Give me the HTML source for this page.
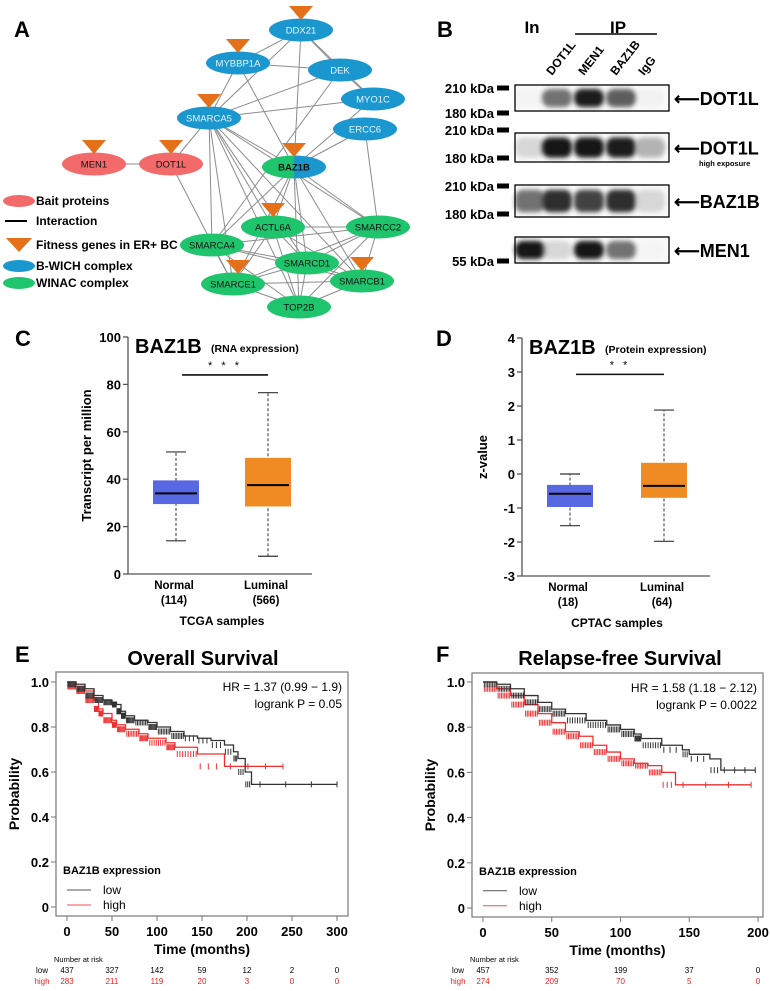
<!DOCTYPE html>
<html><head><meta charset="utf-8">
<style>
html,body{margin:0;padding:0;background:#fff;}
svg{display:block;font-family:"Liberation Sans",Arial,sans-serif;}
</style></head>
<body>
<svg id="fig" width="770" height="991" viewBox="0 0 770 991" xmlns="http://www.w3.org/2000/svg">
<defs>
<filter id="blur2" x="-30%" y="-50%" width="160%" height="200%"><feGaussianBlur stdDeviation="2.5"/></filter>
<clipPath id="bazL"><rect x="260" y="150" width="34" height="40"/></clipPath>
<clipPath id="bazR"><rect x="294" y="150" width="40" height="40"/></clipPath>
</defs>
<g font-weight="bold" font-size="22">
<text x="14" y="37">A</text>
<text x="437" y="37">B</text>
<text x="15" y="346">C</text>
<text x="436" y="346">D</text>
<text x="15" y="662">E</text>
<text x="436" y="662">F</text>
</g>
<g id="net"></g>
<g id="blot"></g>
<g id="boxC"></g>
<g id="boxD"></g>
<g id="kmE"></g>
<g id="kmF"></g>
</svg>
<script>
// ===== Boxplot data =====
const boxCCategories = ["Normal","Luminal"];
const boxCCounts = ["(114)","(566)"];
const boxCWhiskLow = [14, 7.5];
const boxCQ1 = [29.5, 28.5];
const boxCMedian = [34, 37.5];
const boxCQ3 = [39.5, 49];
const boxCWhiskHigh = [51.5, 76.5];
const boxCTicks = [0,20,40,60,80,100];

const boxDCategories = ["Normal","Luminal"];
const boxDCounts = ["(18)","(64)"];
const boxDWhiskLow = [-1.52, -1.98];
const boxDQ1 = [-0.97, -0.7];
const boxDMedian = [-0.58, -0.35];
const boxDQ3 = [-0.32, 0.33];
const boxDWhiskHigh = [0, 1.88];
const boxDTicks = [-3,-2,-1,0,1,2,3,4];

// ===== KM data =====
const kmETimeLow = [0,10,20,30,40,50,55,60,65,75,90,100,115,130,145,160,175,185,190,198,205,300];
const kmESurvLow = [1,0.99,0.97,0.94,0.92,0.91,0.90,0.87,0.85,0.83,0.82,0.80,0.78,0.76,0.75,0.74,0.72,0.69,0.66,0.60,0.545,0.545];
const kmETimeHigh = [0,10,20,30,35,40,50,55,65,80,90,110,120,145,175,240];
const kmESurvHigh = [1,0.98,0.96,0.92,0.88,0.86,0.83,0.81,0.79,0.77,0.75,0.73,0.71,0.68,0.625,0.625];
const kmEXTicks = [0,50,100,150,200,250,300];
const kmERiskLow = ["437","327","142","59","12","2","0"];
const kmERiskHigh = ["283","211","119","20","3","0","0"];

const kmFTimeLow = [0,10,20,30,40,50,60,75,90,100,110,115,130,145,150,165,173,198];
const kmFSurvLow = [1,0.99,0.97,0.94,0.91,0.88,0.86,0.83,0.81,0.79,0.77,0.75,0.72,0.70,0.68,0.66,0.61,0.61];
const kmFTimeHigh = [0,10,20,30,40,50,60,70,80,90,100,110,120,130,140,195];
const kmFSurvHigh = [1,0.97,0.94,0.90,0.86,0.82,0.78,0.76,0.72,0.69,0.66,0.64,0.63,0.60,0.545,0.545];
const kmFXTicks = [0,50,100,150,200];
const kmFRiskLow = ["457","352","199","37","0"];
const kmFRiskHigh = ["274","209","70","5","0"];
const kmYTicks = [0,0.2,0.4,0.6,0.8,1.0];

const NS="http://www.w3.org/2000/svg";
function mk(parent, tag, attrs, text){
  const e=document.createElementNS(NS,tag);
  for(const k in attrs) e.setAttribute(k,attrs[k]);
  if(text!==undefined) e.textContent=text;
  parent.appendChild(e); return e;
}

// ===== Network =====
const net=document.getElementById('net');
const BLUE="#1a97cf", GREEN="#1fc56c", RED="#f26a6a", ORANGE="#e4701a";
const nodes={
 DDX21:[301,30,BLUE],MYBBP1A:[238,63,BLUE],DEK:[340,70,BLUE],MYO1C:[373,99,BLUE],
 SMARCA5:[209,118,BLUE],ERCC6:[365,129,BLUE],MEN1:[94,164,RED],DOT1L:[171,164,RED],
 BAZ1B:[294,167,null],ACTL6A:[273,227,GREEN],SMARCC2:[378,227,GREEN],SMARCA4:[212,245,GREEN],
 SMARCD1:[307,263,GREEN],SMARCE1:[233,284,GREEN],SMARCB1:[362,281,GREEN],TOP2B:[299,307,GREEN]
};
const edges=[["MEN1","DOT1L"],["DOT1L","SMARCA5"],["DOT1L","SMARCE1"],["DDX21","MYBBP1A"],["DDX21","DEK"],["DDX21","MYO1C"],["DDX21","BAZ1B"],["DDX21","SMARCA5"],
["MYBBP1A","DEK"],["MYBBP1A","SMARCA5"],["MYBBP1A","BAZ1B"],["DEK","SMARCA5"],["DEK","MYO1C"],["DEK","SMARCA4"],["MYO1C","SMARCA5"],["MYO1C","BAZ1B"],
["ERCC6","BAZ1B"],["ERCC6","SMARCC2"],["SMARCA5","BAZ1B"],["SMARCA5","ACTL6A"],["SMARCA5","SMARCA4"],["SMARCA5","SMARCD1"],["SMARCA5","SMARCE1"],["SMARCA5","SMARCB1"],["SMARCA5","TOP2B"],["SMARCA5","SMARCC2"],
["BAZ1B","ACTL6A"],["BAZ1B","SMARCC2"],["BAZ1B","SMARCA4"],["BAZ1B","SMARCD1"],["BAZ1B","SMARCE1"],["BAZ1B","SMARCB1"],["BAZ1B","TOP2B"],
["ACTL6A","SMARCC2"],["ACTL6A","SMARCE1"],["ACTL6A","TOP2B"],["ACTL6A","SMARCB1"],["ACTL6A","SMARCD1"],["SMARCC2","SMARCA4"],["SMARCC2","SMARCD1"],["SMARCC2","SMARCB1"],["SMARCC2","SMARCE1"],["SMARCC2","TOP2B"],
["SMARCA4","SMARCD1"],["SMARCA4","SMARCE1"],["SMARCA4","TOP2B"],["SMARCA4","SMARCB1"],["SMARCD1","SMARCE1"],["SMARCD1","TOP2B"],["SMARCD1","SMARCB1"],["SMARCE1","SMARCB1"],["SMARCE1","TOP2B"],["SMARCB1","TOP2B"]];
const eg=mk(net,'g',{stroke:'#8c8c8c','stroke-width':1});


edges.forEach(([a,b])=>{const l=mk(eg,'line',{x1:nodes[a][0],y1:nodes[a][1],x2:nodes[b][0],y2:nodes[b][1]});
 
 });
const fitness=["DDX21","MYBBP1A","SMARCA5","MEN1","DOT1L","BAZ1B","ACTL6A","SMARCE1","SMARCB1"];
for(const n in nodes){
 const [x,y,c]=nodes[n];
 const g=mk(net,'g',{});
 
 
 if(c){mk(g,'ellipse',{cx:x,cy:y,rx:32,ry:11.5,fill:c});}
 else{mk(g,'ellipse',{cx:x,cy:y,rx:32,ry:11.5,fill:GREEN,'clip-path':'url(#bazL)'});mk(g,'ellipse',{cx:x,cy:y,rx:32,ry:11.5,fill:BLUE,'clip-path':'url(#bazR)'});}
 mk(g,'text',{x:x,y:y+3.5,'text-anchor':'middle','font-size':9.5,fill:c===BLUE?'#e8f4fb':'#111','font-weight':n==='BAZ1B'?'bold':'normal'},n);
}
fitness.forEach(n=>{let [x,y]=nodes[n]; if(n==='SMARCE1')x+=5;
 const t=mk(net,'polygon',{points:`${x-12},${y-24} ${x+12},${y-24} ${x},${y-10}`,fill:ORANGE});
 
 });
// legend
const lg=mk(net,'g',{'font-size':12,'font-weight':'bold'});


mk(lg,'ellipse',{cx:19,cy:201,rx:16,ry:6,fill:RED});mk(lg,'text',{x:36,y:205},'Bait proteins');
mk(lg,'line',{x1:5,y1:221,x2:27,y2:221,stroke:'#000','stroke-width':2});mk(lg,'text',{x:36,y:225},'Interaction');
mk(lg,'polygon',{points:'6,238 32,238 19,252',fill:ORANGE});mk(lg,'text',{x:36,y:249},'Fitness genes in ER+ BC');
mk(lg,'ellipse',{cx:19,cy:266,rx:16,ry:6,fill:BLUE});mk(lg,'text',{x:36,y:270},'B-WICH complex');
mk(lg,'ellipse',{cx:19,cy:283,rx:16,ry:6,fill:GREEN});mk(lg,'text',{x:36,y:287},'WINAC complex');

// ===== Blot =====
const bl=document.getElementById('blot');
mk(bl,'text',{x:532,y:33,'font-size':17,'font-weight':'bold','text-anchor':'middle'},'In');
mk(bl,'text',{x:618,y:33,'font-size':17,'font-weight':'bold','text-anchor':'middle'},'IP');
mk(bl,'line',{x1:575,y1:34,x2:657,y2:34,stroke:'#000','stroke-width':1.5});
const lanes=["DOT1L","MEN1","BAZ1B","IgG"], laneX=[556,588,620,648];
lanes.forEach((l,i)=>{const t=mk(bl,'text',{x:laneX[i]-4,y:76,'font-size':12,'font-weight':'bold',transform:`rotate(-52 ${laneX[i]-4} 76)`},l);
 });
const blots=[{y:85,h:26,lab:'DOT1L',sub:'',b:[0.04,0.6,0.92,0.65,0.06],m:['210 kDa',88,'180 kDa',113]},
 {y:133,h:29,lab:'DOT1L',sub:'high exposure',b:[0.25,0.97,0.97,0.92,0.4],m:['210 kDa',130,'180 kDa',158]},
 {y:185,h:32,lab:'BAZ1B',sub:'',b:[0.6,0.85,0.75,0.85,0.25],m:['210 kDa',186,'180 kDa',214]},
 {y:237,h:26,lab:'MEN1',sub:'',b:[0.98,0.25,0.95,0.6,0.03],m:['55 kDa',261]}];
const bx=[530,557,589,621,650];
blots.forEach((b,k)=>{const g=mk(bl,'g',{});
 
 mk(g,'rect',{x:515,y:b.y,width:154,height:b.h,fill:'#fafafa'});
 b.b.forEach((v,i)=>{const sh=Math.round(255*(1-v)*0.8+15);mk(g,'rect',{x:bx[i]-15,y:b.y+b.h*0.15,width:30,height:b.h*0.7,rx:8,fill:`rgb(${sh},${sh},${sh})`,filter:'url(#blur2)',opacity:Math.min(1,v*1.3+0.1)});});
 mk(g,'rect',{x:515,y:b.y,width:154,height:b.h,fill:'none',stroke:'#000','stroke-width':1.3});
 mk(g,'text',{x:674,y:b.y+b.h/2+7,'font-size':18,'font-weight':'bold'},'\u27F5'+b.lab);
 if(b.sub) mk(g,'text',{x:699,y:b.y+b.h+4,'font-size':7.5,'font-weight':'bold'},b.sub);
 for(let j=0;j<b.m.length;j+=2){mk(g,'text',{x:494,y:b.m[j+1]+5,'font-size':13,'font-weight':'bold','text-anchor':'end'},b.m[j]);
  mk(g,'rect',{x:497,y:b.m[j+1]-2.5,width:12,height:5,fill:'#000'});}
});

// ===== Boxplots =====
function boxplot(gid,o){
 const g=document.getElementById(gid);
 const ys=v=>o.y0-(v-o.ymin)/(o.ymax-o.ymin)*(o.y0-o.y1);
 mk(g,'line',{x1:o.ax,y1:o.y1,x2:o.ax,y2:o.y0,stroke:'#555','stroke-width':1.3});
 mk(g,'line',{x1:o.ax,y1:o.y0,x2:o.axEnd,y2:o.y0,stroke:'#555','stroke-width':1.3});
 o.ticks.forEach(t=>{mk(g,'line',{x1:o.ax-5,y1:ys(t),x2:o.ax,y2:ys(t),stroke:'#555','stroke-width':1.3});
  mk(g,'text',{x:o.ax-7,y:ys(t)+5,'font-size':13,'font-weight':'bold','text-anchor':'end'},t);});
 o.cats.forEach((c,i)=>{
  const cx=o.cx[i], w=o.w;
  const bg=mk(g,'g',{});
  
  
  mk(bg,'line',{x1:cx,y1:ys(o.wl[i]),x2:cx,y2:ys(o.wh[i]),stroke:'#333','stroke-dasharray':'3,2','stroke-width':1});
  mk(bg,'line',{x1:cx-10,y1:ys(o.wl[i]),x2:cx+10,y2:ys(o.wl[i]),stroke:'#333','stroke-width':1.2});
  mk(bg,'line',{x1:cx-10,y1:ys(o.wh[i]),x2:cx+10,y2:ys(o.wh[i]),stroke:'#333','stroke-width':1.2});
  mk(bg,'rect',{x:cx-w/2,y:ys(o.q3[i]),width:w,height:ys(o.q1[i])-ys(o.q3[i]),fill:o.col[i]});
  mk(bg,'line',{x1:cx-w/2+2,y1:ys(o.med[i]),x2:cx+w/2-2,y2:ys(o.med[i]),stroke:'#000','stroke-width':2});
  mk(g,'text',{x:cx-2,y:o.y0+15,'font-size':11.5,'font-weight':'bold','text-anchor':'middle'},c);
  mk(g,'text',{x:cx-2,y:o.y0+30,'font-size':11.5,'font-weight':'bold','text-anchor':'middle'},o.counts[i]);
 });
 mk(g,'line',{x1:o.cx[0]+6,y1:ys(o.sig),x2:o.cx[1],y2:ys(o.sig),stroke:'#111','stroke-width':1.6});
 mk(g,'text',{x:(o.cx[0]+o.cx[1])/2+3,y:ys(o.sig)-6,'font-size':11,'text-anchor':'middle','letter-spacing':'3'},o.stars);
 mk(g,'text',{x:o.ax+7,y:o.y1+16,'font-size':20,'font-weight':'bold'},'BAZ1B');
 mk(g,'text',{x:o.ax+83,y:o.y1+15,'font-size':10.5,'font-weight':'bold'},o.sub);
 mk(g,'text',{x:(o.cx[0]+o.cx[1])/2,y:o.y0+51,'font-size':12,'font-weight':'bold','text-anchor':'middle'},o.xtitle);
 mk(g,'text',{x:o.ylx,y:(o.y0+o.y1)/2,'font-size':13,'font-weight':'bold','text-anchor':'middle',transform:`rotate(-90 ${o.ylx} ${(o.y0+o.y1)/2})`},o.ytitle);
}
boxplot('boxC',{ax:128,axEnd:312,y0:574,y1:337,ymin:0,ymax:100,ticks:boxCTicks,cats:boxCCategories,counts:boxCCounts,cx:[176,268],w:46,
 wl:boxCWhiskLow,q1:boxCQ1,med:boxCMedian,q3:boxCQ3,wh:boxCWhiskHigh,col:['#5868e2','#f08a22'],sig:84,stars:'* * *',sub:'(RNA expression)',xtitle:'TCGA samples',ytitle:'Transcript per million',ylx:91});
boxplot('boxD',{ax:522,axEnd:710,y0:576,y1:338,ymin:-3,ymax:4,ticks:boxDTicks,cats:boxDCategories,counts:boxDCounts,cx:[570,664],w:46,
 wl:boxDWhiskLow,q1:boxDQ1,med:boxDMedian,q3:boxDQ3,wh:boxDWhiskHigh,col:['#5868e2','#f08a22'],sig:2.93,stars:'* *',sub:'(Protein expression)',xtitle:'CPTAC samples',ytitle:'z-value',ylx:487});

// ===== KM =====
function km(gid,o){
 const g=document.getElementById(gid);
 const xs=t=>o.x0+t/o.xmax*(o.x1-o.x0), ys=v=>o.yb-v*(o.yb-o.yt);
 mk(g,'text',{x:o.titleX,y:665,'font-size':20,'font-weight':'bold','text-anchor':'middle'},o.title);
 mk(g,'rect',{x:o.bx0,y:o.by0,width:o.bx1-o.bx0,height:o.by1-o.by0,fill:'none',stroke:'#777','stroke-width':1.2});
 kmYTicks.forEach(t=>{mk(g,'line',{x1:o.bx0-5,y1:ys(t),x2:o.bx0,y2:ys(t),stroke:'#777'});
  mk(g,'text',{x:o.bx0-7,y:ys(t)+5,'font-size':13,'font-weight':'bold','text-anchor':'end'},t===0?'0':t.toFixed(1));});
 o.xt.forEach((t,i)=>{mk(g,'line',{x1:xs(t),y1:o.by1,x2:xs(t),y2:o.by1+5,stroke:'#777'});
  mk(g,'text',{x:xs(t),y:o.by1+20,'font-size':13,'font-weight':'bold','text-anchor':'middle'},t);
  mk(g,'text',{x:xs(t),y:973,'font-size':8,'text-anchor':'middle'},o.rl[i]);
  mk(g,'text',{x:xs(t),y:984,'font-size':8,'text-anchor':'middle',fill:'#e8231f'},o.rh[i]);});
 mk(g,'text',{x:(o.bx0+o.bx1)/2,y:o.by1+38,'font-size':14,'font-weight':'bold','text-anchor':'middle'},'Time (months)');
 const yl=o.bx0-37;
 mk(g,'text',{x:yl,y:(o.by0+o.by1)/2,'font-size':14,'font-weight':'bold','text-anchor':'middle',transform:`rotate(-90 ${yl} ${(o.by0+o.by1)/2})`},'Probability');
 mk(g,'text',{x:o.x0-13,y:962,'font-size':7.5},'Number at risk');
 mk(g,'text',{x:o.x0-25,y:973,'font-size':8,'text-anchor':'middle'},'low');
 mk(g,'text',{x:o.x0-25,y:984,'font-size':8,'text-anchor':'middle',fill:'#e8231f'},'high');
 mk(g,'text',{x:o.bx1-6,y:o.by0+19,'font-size':12,'text-anchor':'end'},o.hr);
 mk(g,'text',{x:o.bx1-6,y:o.by0+36,'font-size':12,'text-anchor':'end'},o.p);
 mk(g,'text',{x:o.x0-4,y:ys(0.2)+12,'font-size':11,'font-weight':'bold'},'BAZ1B expression');
 mk(g,'line',{x1:o.x0,y1:ys(0.2)+28,x2:o.x0+24,y2:ys(0.2)+28,stroke:'#555'});
 mk(g,'text',{x:o.x0+36,y:ys(0.2)+32,'font-size':12},'low');
 mk(g,'line',{x1:o.x0,y1:ys(0.2)+43,x2:o.x0+24,y2:ys(0.2)+43,stroke:'#f25050'});
 mk(g,'text',{x:o.x0+36,y:ys(0.2)+47,'font-size':12},'high');
 [[o.th,o.sh,'#f03030','high'],[o.tl,o.sl,'#333','low']].forEach(([T,S,c,nm])=>{
  let d=`M${xs(T[0])},${ys(S[0])}`;
  for(let i=1;i<T.length;i++){d+=` H${xs(T[i])} V${ys(S[i])}`;}
  const p=mk(g,'path',{d:d,fill:'none',stroke:c,'stroke-width':1.3});
  
  
  for(let i=0;i<T.length-1;i++){
   const dense=T[i]<130?0.12:0.3;
   for(let f=0.1;f<1;f+=dense){const x=xs(T[i]+(T[i+1]-T[i])*f), y=ys(S[i+1]);
    mk(g,'line',{x1:x,y1:y-3,x2:x,y2:y+3,stroke:c,'stroke-width':1});}
  }
  const xe=xs(T[T.length-1]);mk(g,'line',{x1:xe,y1:ys(S[S.length-1])-3,x2:xe,y2:ys(S[S.length-1])+3,stroke:c});
 });
}
km('kmE',{x0:67,x1:337,xmax:300,yb:907,yt:682,bx0:56,bx1:348,by0:672,by1:916,xt:kmEXTicks,rl:kmERiskLow,rh:kmERiskHigh,
 tl:kmETimeLow,sl:kmESurvLow,th:kmETimeHigh,sh:kmESurvHigh,title:'Overall Survival',titleX:203,hr:'HR = 1.37 (0.99 \u2212 1.9)',p:'logrank P = 0.05'});
km('kmF',{x0:483,x1:758,xmax:200,yb:908,yt:682,bx0:472,bx1:763,by0:673,by1:917,xt:kmFXTicks,rl:kmFRiskLow,rh:kmFRiskHigh,
 tl:kmFTimeLow,sl:kmFSurvLow,th:kmFTimeHigh,sh:kmFSurvHigh,title:'Relapse-free Survival',titleX:620,hr:'HR = 1.58 (1.18 \u2212 2.12)',p:'logrank P = 0.0022'});
</script>
</body></html>
